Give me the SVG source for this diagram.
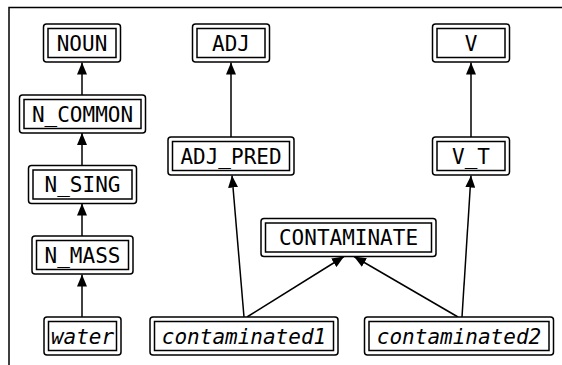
<svg xmlns="http://www.w3.org/2000/svg" width="562" height="365" viewBox="0 0 562 365">
<defs>
<style>
.o{fill:#fff;stroke:#000;stroke-width:1.5}
.i{fill:none;stroke:#000;stroke-width:1.5}
.t{font-family:"DejaVu Sans Mono",monospace;font-size:21px;fill:#000;text-anchor:middle}
.it{font-style:italic}
.e{stroke:#000;stroke-width:1.5;fill:none;marker-end:url(#a)}
</style>
<marker id="a" markerUnits="userSpaceOnUse" markerWidth="12" markerHeight="10" viewBox="0 0 12 10" refX="12" refY="5" orient="auto">
<path d="M0,0 L12,5 L0,10 Z" fill="#000"/>
</marker>
</defs>
<rect width="562" height="365" fill="#fff"/>
<path d="M9,365 V7.5 H562" fill="none" stroke="#000" stroke-width="1.5"/>
<g id="edges">
<path class="e" d="M82,95 V62.5"/>
<path class="e" d="M82,165 V133"/>
<path class="e" d="M82,236 V203.5"/>
<path class="e" d="M82,317 V274.5"/>
<path class="e" d="M231,137 V62.5"/>
<path class="e" d="M471,137 V62.5"/>
<path class="e" d="M244,317 L232,175.5"/>
<path class="e" d="M247,317 L344,256.5"/>
<path class="e" d="M458,317 L354,256.5"/>
<path class="e" d="M462,317 L471,175.5"/>
</g>
<g id="NOUN"><rect class="o" x="43.5" y="24" width="77" height="38" rx="3"/><rect class="i" x="48" y="28.5" width="68" height="29"/><text class="t" x="82" y="50.5">NOUN</text></g>
<g id="N_COMMON"><rect class="o" x="19.5" y="95" width="126" height="38" rx="3"/><rect class="i" x="24" y="99.5" width="117" height="29"/><text class="t" x="82.5" y="121.5">N_COMMON</text></g>
<g id="N_SING"><rect class="o" x="28.5" y="165.5" width="108" height="38" rx="3"/><rect class="i" x="33" y="170" width="99" height="29"/><text class="t" x="82.5" y="192">N_SING</text></g>
<g id="N_MASS"><rect class="o" x="32" y="236" width="101" height="38" rx="3"/><rect class="i" x="36.5" y="240.5" width="92" height="29"/><text class="t" x="82.5" y="262.5">N_MASS</text></g>
<g id="water"><rect class="o" x="44" y="317" width="77" height="38" rx="3"/><rect class="i" x="48.5" y="321.5" width="68" height="29"/><text class="t it" x="82.5" y="343.5">water</text></g>
<g id="ADJ"><rect class="o" x="192.5" y="24" width="77" height="38" rx="3"/><rect class="i" x="197" y="28.5" width="68" height="29"/><text class="t" x="231" y="50.5">ADJ</text></g>
<g id="ADJ_PRED"><rect class="o" x="168" y="137" width="126" height="38" rx="3"/><rect class="i" x="172.5" y="141.5" width="117" height="29"/><text class="t" x="231" y="163.5">ADJ_PRED</text></g>
<g id="V"><rect class="o" x="432.5" y="24" width="77" height="38" rx="3"/><rect class="i" x="437" y="28.5" width="68" height="29"/><text class="t" x="471" y="50.5">V</text></g>
<g id="V_T"><rect class="o" x="432.5" y="137" width="77" height="38" rx="3"/><rect class="i" x="437" y="141.5" width="68" height="29"/><text class="t" x="471" y="163.5">V_T</text></g>
<g id="CONTAMINATE"><rect class="o" x="261" y="218.5" width="175" height="38" rx="3"/><rect class="i" x="265.5" y="223" width="166" height="29"/><text class="t" x="348.5" y="245">CONTAMINATE</text></g>
<g id="contaminated1"><rect class="o" x="150" y="317" width="188" height="38" rx="3"/><rect class="i" x="154.5" y="321.5" width="179" height="29"/><text class="t it" x="244" y="343.5">contaminated1</text></g>
<g id="contaminated2"><rect class="o" x="364.5" y="317" width="189" height="38" rx="3"/><rect class="i" x="369" y="321.5" width="180" height="29"/><text class="t it" x="459" y="343.5">contaminated2</text></g>
</svg>
